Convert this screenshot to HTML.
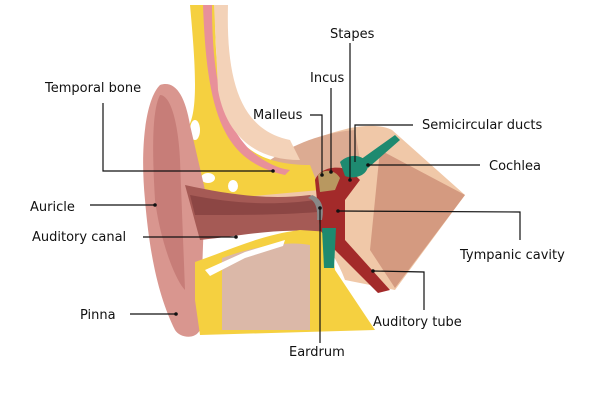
<!DOCTYPE html>
<html><head><style>
html,body{margin:0;padding:0;background:#fff;}
svg{display:block;}
text{font-family:"DejaVu Sans","Liberation Sans",sans-serif;font-size:13px;fill:#111;}
</style></head><body>
<svg width="600" height="400" viewBox="0 0 600 400">
<path d="M250,175 C280,150 320,135 350,128 C370,124 385,126 392,130 L465,195 L395,290 L345,280 C330,240 300,210 250,200 Z" fill="#f0c8a8"/>
<path d="M380,150 L465,195 L395,288 L370,250 Z" fill="#d49a80"/>
<path d="M270,160 C300,140 330,132 355,130 L360,160 L300,185 Z" fill="#dcab92"/>
<path d="M190,5 L215,5 C215,60 218,110 240,140 C255,158 280,165 310,165 L320,190 L210,200 C200,190 190,170 180,150 L185,130 C200,120 195,60 190,5 Z" fill="#f5d040"/>
<path d="M203,5 L212,5 C212,70 220,120 250,150 C262,160 275,168 290,170 L285,175 C255,168 240,155 230,140 C210,110 205,60 203,5 Z" fill="#e8909a"/>
<path d="M214,5 L228,5 C226,80 240,130 290,140 L300,160 C250,160 225,130 218,90 Z" fill="#f3d2b8"/>
<ellipse cx="195" cy="130" rx="5" ry="10" fill="#fff"/>
<ellipse cx="208" cy="178" rx="7" ry="5" fill="#fff"/>
<ellipse cx="233" cy="186" rx="5" ry="6" fill="#fff"/>
<path d="M160,85 C175,80 185,95 190,125 L205,190 L200,330 C195,340 180,338 175,330 C160,300 150,260 145,200 C140,150 145,100 160,85 Z" fill="#d9968f"/>
<path d="M160,95 C170,95 178,120 180,160 L185,290 C175,280 160,240 155,200 C152,150 152,110 160,95 Z" fill="#c77d78"/>
<path d="M185,185 C230,195 270,200 310,195 L330,205 L330,235 C290,225 250,235 200,240 Z" fill="#a55a55"/>
<path d="M190,195 C240,205 280,205 315,200 L318,212 C280,215 240,215 195,215 Z" fill="#8c4644"/>
<path d="M195,262 C230,250 260,235 300,230 L330,232 L335,270 L375,330 L200,335 L195,300 Z" fill="#f5d040"/>
<path d="M222,258 C250,248 285,240 310,245 L310,330 L222,330 Z" fill="#dbb8a8"/>
<path d="M205,270 L245,252 L285,240 L283,246 L245,258 L210,276 Z" fill="#fff"/>
<path d="M315,180 C320,168 335,165 350,170 L360,180 L345,200 L345,240 L390,290 L378,293 L335,250 L320,230 Z" fill="#a32a2a"/>
<path d="M318,175 C325,168 335,170 340,178 L335,190 L320,192 Z" fill="#b89860"/>
<path d="M340,162 C350,152 365,155 368,165 C368,175 355,180 345,176 Z" fill="#1e8a70"/>
<path d="M360,160 L395,135 L400,140 L368,168 Z" fill="#1e8a70"/>
<path d="M322,228 L336,228 L334,268 L324,268 Z" fill="#1e8a70"/>
<path d="M312,195 C320,198 325,205 322,220 L317,220 C318,208 315,200 308,198 Z" fill="#888"/>
<g stroke="#111" stroke-width="1.2" fill="none">
<polyline points="103,103 103,171 273,171"/>
<line x1="90" y1="205" x2="155" y2="205"/>
<line x1="143" y1="237" x2="236" y2="237"/>
<line x1="130" y1="314" x2="176" y2="314"/>
<polyline points="310,115 322,115 322,175"/>
<line x1="331" y1="88" x2="331" y2="172"/>
<line x1="350" y1="43" x2="350" y2="180"/>
<polyline points="413,125 355,125 355,162"/>
<line x1="480" y1="165" x2="368" y2="165"/>
<polyline points="338,211 520,212 520,240"/>
<polyline points="373,271 424,272 424,310"/>
<line x1="320" y1="208" x2="320" y2="343"/>
</g>
<g fill="#111">
<circle cx="273" cy="171" r="1.8"/><circle cx="155" cy="205" r="1.8"/><circle cx="236" cy="237" r="1.8"/>
<circle cx="176" cy="314" r="1.8"/><circle cx="322" cy="175" r="1.8"/><circle cx="331" cy="172" r="1.8"/>
<circle cx="350" cy="180" r="1.8"/><circle cx="368" cy="165" r="1.8"/><circle cx="338" cy="211" r="1.8"/>
<circle cx="373" cy="271" r="1.8"/><circle cx="320" cy="208" r="1.8"/>
</g>
<text x="330" y="38">Stapes</text>
<text x="310" y="82">Incus</text>
<text x="253" y="119">Malleus</text>
<text x="422" y="129">Semicircular ducts</text>
<text x="489" y="170">Cochlea</text>
<text x="45" y="92">Temporal bone</text>
<text x="30" y="211">Auricle</text>
<text x="32" y="241">Auditory canal</text>
<text x="460" y="259">Tympanic cavity</text>
<text x="373" y="326">Auditory tube</text>
<text x="80" y="319">Pinna</text>
<text x="289" y="356">Eardrum</text>
</svg>
</body></html>
